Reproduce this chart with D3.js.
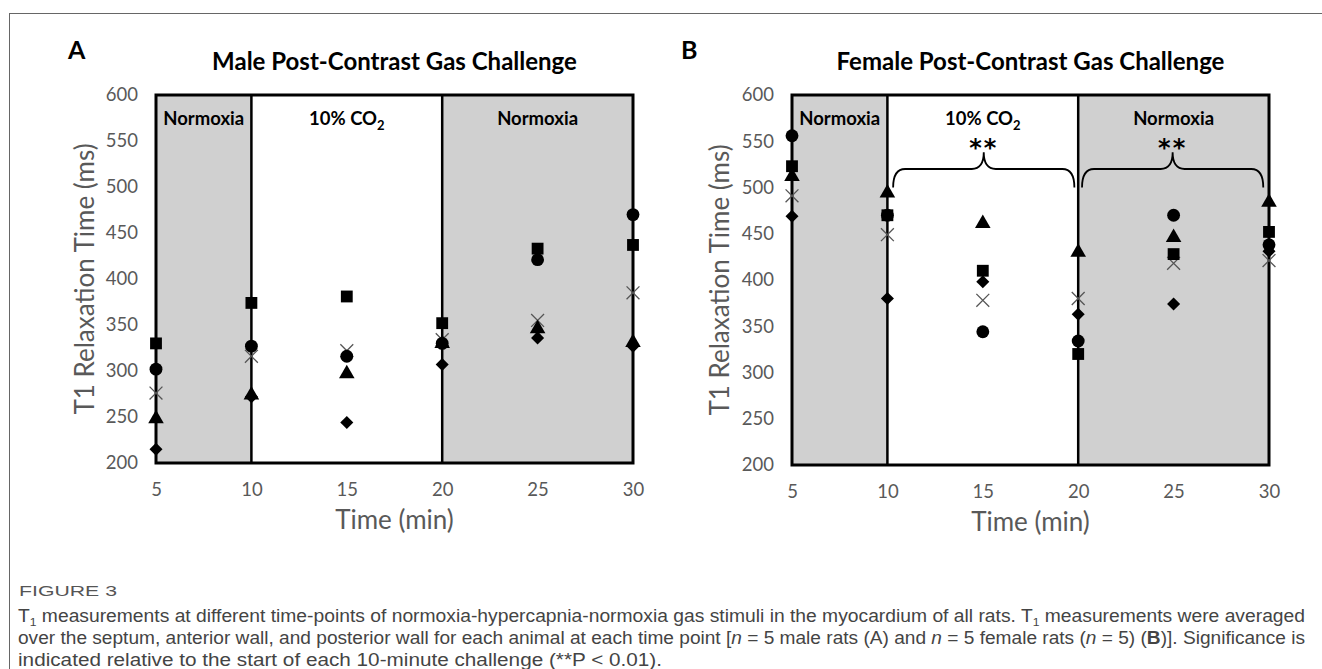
<!DOCTYPE html>
<html lang="en">
<head>
<meta charset="utf-8">
<title>T1 Post-Contrast Gas Challenge</title>
<script src="https://cdn.jsdelivr.net/npm/d3@7"></script>
<style>
  body { margin: 0; background: #fff; }
  svg { display: block; }
</style>
</head>
<body>
<script>
// time points (min)
var times = [5, 10, 15, 20, 25, 30];
var yTicks = [200, 250, 300, 350, 400, 450, 500, 550, 600];

// male rats, one array per animal (marker)
var maleSquare   = [330, 374, 381, 352, 433, 437];
var maleCircle   = [302, 327, 316, 330, 421, 470];
var maleCross    = [276, 316, 322, 334, 355, 385];
var maleTriangle = [248, 274, 297, 330, 346, 331];
var maleDiamond  = [215, 272, 244, 307, 336, 327];

// female rats
var femaleSquare   = [523, 470, 410, 320, 428, 452];
var femaleCircle   = [556, 470, 344, 334, 470, 438];
var femaleCross    = [491, 449, 378, 380, 418, 421];
var femaleTriangle = [512, 494, 461, 430, 446, 484];
var femaleDiamond  = [469, 380, 398, 363, 374, 431];

// gas phases
var phases = [
  { from: 5, to: 10, label: "Normoxia", shade: true },
  { from: 10, to: 20, label: "10% CO", sub: "2", shade: false },
  { from: 20, to: 30, label: "Normoxia", shade: true }
];
// significance braces (female panel)
var braces = [
  { from: 10.3, to: 19.8, label: "**" },
  { from: 20.2, to: 29.7, label: "**" }
];

var W = 1322, H = 669;
var font = "Lato, 'Open Sans', sans-serif";

var svg = d3.select("body").append("svg")
  .attr("width", W).attr("height", H);

// outer frame lines
svg.append("line").attr("x1", 9).attr("x2", W).attr("y1", 13.5).attr("y2", 13.5)
  .attr("stroke", "#666").attr("stroke-width", 1);
svg.append("line").attr("x1", 9.5).attr("x2", 9.5).attr("y1", 13).attr("y2", H)
  .attr("stroke", "#666").attr("stroke-width", 1);

function drawPanel(opt) {
  var x = d3.scaleLinear().domain([5, 30]).range([opt.x0, opt.x1]);
  var y = d3.scaleLinear().domain([200, 600]).range([opt.y1, opt.y0]);
  var g = svg.append("g");

  // letter + title
  g.append("text").attr("x", opt.letterX).attr("y", 59)
    .attr("font-family", font).attr("font-weight", 700).attr("font-size", 25)
    .text(opt.letter);
  g.append("text").attr("x", (opt.x0 + opt.x1) / 2).attr("y", 70)
    .attr("text-anchor", "middle")
    .attr("font-family", font).attr("font-weight", 700).attr("font-size", 24)
    .text(opt.title);

  // phase shading
  g.selectAll("rect.phase").data(phases.filter(function (d) { return d.shade; }))
    .enter().append("rect")
    .attr("x", function (d) { return x(d.from); })
    .attr("y", y(600))
    .attr("width", function (d) { return x(d.to) - x(d.from); })
    .attr("height", y(200) - y(600))
    .attr("fill", "#d0d0d0");

  // phase dividers
  g.selectAll("line.div").data([10, 20]).enter().append("line")
    .attr("x1", function (d) { return x(d); }).attr("x2", function (d) { return x(d); })
    .attr("y1", y(600)).attr("y2", y(200))
    .attr("stroke", "#000").attr("stroke-width", 2.5);

  // frame
  g.append("rect").attr("x", x(5)).attr("y", y(600))
    .attr("width", x(30) - x(5)).attr("height", y(200) - y(600))
    .attr("fill", "none").attr("stroke", "#000").attr("stroke-width", 3);

  // phase labels
  var pl = g.selectAll("text.phase").data(phases).enter().append("text")
    .attr("x", function (d) { return x((d.from + d.to) / 2); })
    .attr("y", y(600) + 30)
    .attr("text-anchor", "middle")
    .attr("font-family", font).attr("font-weight", 700).attr("font-size", 18.5)
    .text(function (d) { return d.label; });
  pl.filter(function (d) { return d.sub; }).append("tspan")
    .attr("font-size", 13).attr("dy", 5)
    .text(function (d) { return d.sub; });

  // axes
  var yAxis = g.append("g").attr("transform", "translate(" + (opt.x0 - 18) + ",0)")
    .call(d3.axisLeft(y).tickValues(yTicks).tickSize(0).tickPadding(0));
  yAxis.select(".domain").remove();
  yAxis.selectAll("text").attr("font-family", font).attr("font-size", 18.5)
    .attr("fill", "#595959");

  var xAxis = g.append("g").attr("transform", "translate(0," + (opt.y1 + 20) + ")")
    .call(d3.axisBottom(x).tickValues(times).tickSize(0).tickPadding(0));
  xAxis.select(".domain").remove();
  xAxis.selectAll("text").attr("font-family", font).attr("font-size", 18.5)
    .attr("fill", "#595959").attr("dy", "0.71em");

  g.append("text").attr("x", (opt.x0 + opt.x1) / 2).attr("y", opt.y1 + 66)
    .attr("text-anchor", "middle")
    .attr("font-family", font).attr("font-size", 26).attr("fill", "#595959")
    .text("Time (min)");
  g.append("text")
    .attr("transform", "translate(" + opt.yTitleX + "," + ((opt.y0 + opt.y1) / 2) + ") rotate(-90)")
    .attr("text-anchor", "middle")
    .attr("font-family", font).attr("font-size", 26).attr("fill", "#595959")
    .text("T1 Relaxation Time (ms)");

  // significance braces
  (opt.braces || []).forEach(function (b) {
    var xa = x(b.from), xb = x(b.to), xm = (xa + xb) / 2;
    var yEnd = y(500), yFlat = y(520), yTip = y(538), r = 12;
    var p = d3.path();
    p.moveTo(xa, yEnd);
    p.quadraticCurveTo(xa, yFlat, xa + r, yFlat);
    p.lineTo(xm - r, yFlat);
    p.quadraticCurveTo(xm, yFlat, xm, yTip);
    p.quadraticCurveTo(xm, yFlat, xm + r, yFlat);
    p.lineTo(xb - r, yFlat);
    p.quadraticCurveTo(xb, yFlat, xb, yEnd);
    g.append("path").attr("d", p.toString()).attr("fill", "none")
      .attr("stroke", "#000").attr("stroke-width", 1.8);
    g.append("text").attr("x", xm).attr("y", yTip + 4)
      .attr("text-anchor", "middle").attr("font-family", "'DejaVu Sans', sans-serif")
      .attr("font-weight", 700).attr("font-size", 24).attr("letter-spacing", 2)
      .text(b.label);
  });

  // data series
  opt.series.forEach(function (s) {
    var pts = times.map(function (t, i) { return [t, s.values[i]]; });
    var sym = d3.symbol().type(s.type).size(s.size);
    g.selectAll(null).data(pts).enter().append("path")
      .attr("d", sym)
      .attr("transform", function (d) {
        return "translate(" + x(d[0]) + "," + y(d[1]) + ")" + (s.rotate ? " rotate(45)" : "");
      })
      .attr("fill", s.stroke ? "none" : "#000")
      .attr("stroke", s.stroke ? "#555" : "none")
      .attr("stroke-width", s.stroke ? 1.3 : 0);
  });
}

function seriesFor(sq, ci, cr, tr, di) {
  return [
    { values: cr, type: d3.symbolX, size: 110, stroke: true },
    { values: di, type: d3.symbolSquare, size: 85, rotate: true },
    { values: tr, type: d3.symbolTriangle, size: 105 },
    { values: ci, type: d3.symbolCircle, size: 130 },
    { values: sq, type: d3.symbolSquare, size: 140 }
  ];
}

drawPanel({
  letter: "A", letterX: 68, title: "Male Post-Contrast Gas Challenge",
  x0: 156, x1: 633, y0: 95, y1: 463, yTitleX: 94,
  series: seriesFor(maleSquare, maleCircle, maleCross, maleTriangle, maleDiamond)
});
drawPanel({
  letter: "B", letterX: 681, title: "Female Post-Contrast Gas Challenge",
  x0: 792, x1: 1269, y0: 95, y1: 465, yTitleX: 729,
  braces: braces,
  series: seriesFor(femaleSquare, femaleCircle, femaleCross, femaleTriangle, femaleDiamond)
});

// caption
var capFont = "'Liberation Sans Narrow', 'Liberation Sans', sans-serif";
svg.append("text").attr("x", 19).attr("y", 596)
  .attr("font-family", capFont).attr("font-size", 15).attr("fill", "#555")
  .attr("textLength", 98).attr("lengthAdjust", "spacingAndGlyphs")
  .text("FIGURE 3");

var cap = [
  { parts: [["T", ""], ["1", "sub"], [" measurements at different time-points of normoxia-hypercapnia-normoxia gas stimuli in the myocardium of all rats. T", ""], ["1", "sub"], [" measurements were averaged", ""]], fit: 1287 },
  { parts: [["over the septum, anterior wall, and posterior wall for each animal at each time point [", ""], ["n", "i"], [" = 5 male rats (A) and ", ""], ["n", "i"], [" = 5 female rats (", ""], ["n", "i"], [" = 5) (", ""], ["B", "b"], [")]. Significance is", ""]], fit: 1287 },
  { parts: [["indicated relative to the start of each 10-minute challenge (**P < 0.01).", ""]], fit: 644 }
];
cap.forEach(function (line, i) {
  var t = svg.append("text").attr("x", 18).attr("y", 622 + i * 22)
    .attr("font-family", capFont).attr("font-size", 17.5).attr("fill", "#444");
  if (line.fit) t.attr("textLength", line.fit).attr("lengthAdjust", "spacingAndGlyphs");
  line.parts.forEach(function (p) {
    var ts = t.append("tspan").text(p[0]);
    if (p[1] === "sub") ts.attr("font-size", 11).attr("dy", 4);
    if (p[1] === "i") ts.attr("font-style", "italic");
    if (p[1] === "b") ts.attr("font-weight", 700);
  });
  // reset baseline after subscripts
  t.selectAll("tspan").each(function (d, j, nodes) {
    var el = d3.select(this);
    var prev = j > 0 ? d3.select(nodes[j - 1]).attr("font-size") : null;
    if (prev === "11" && !el.attr("font-size")) el.attr("dy", -4);
  });
});
</script>
</body>
</html>
